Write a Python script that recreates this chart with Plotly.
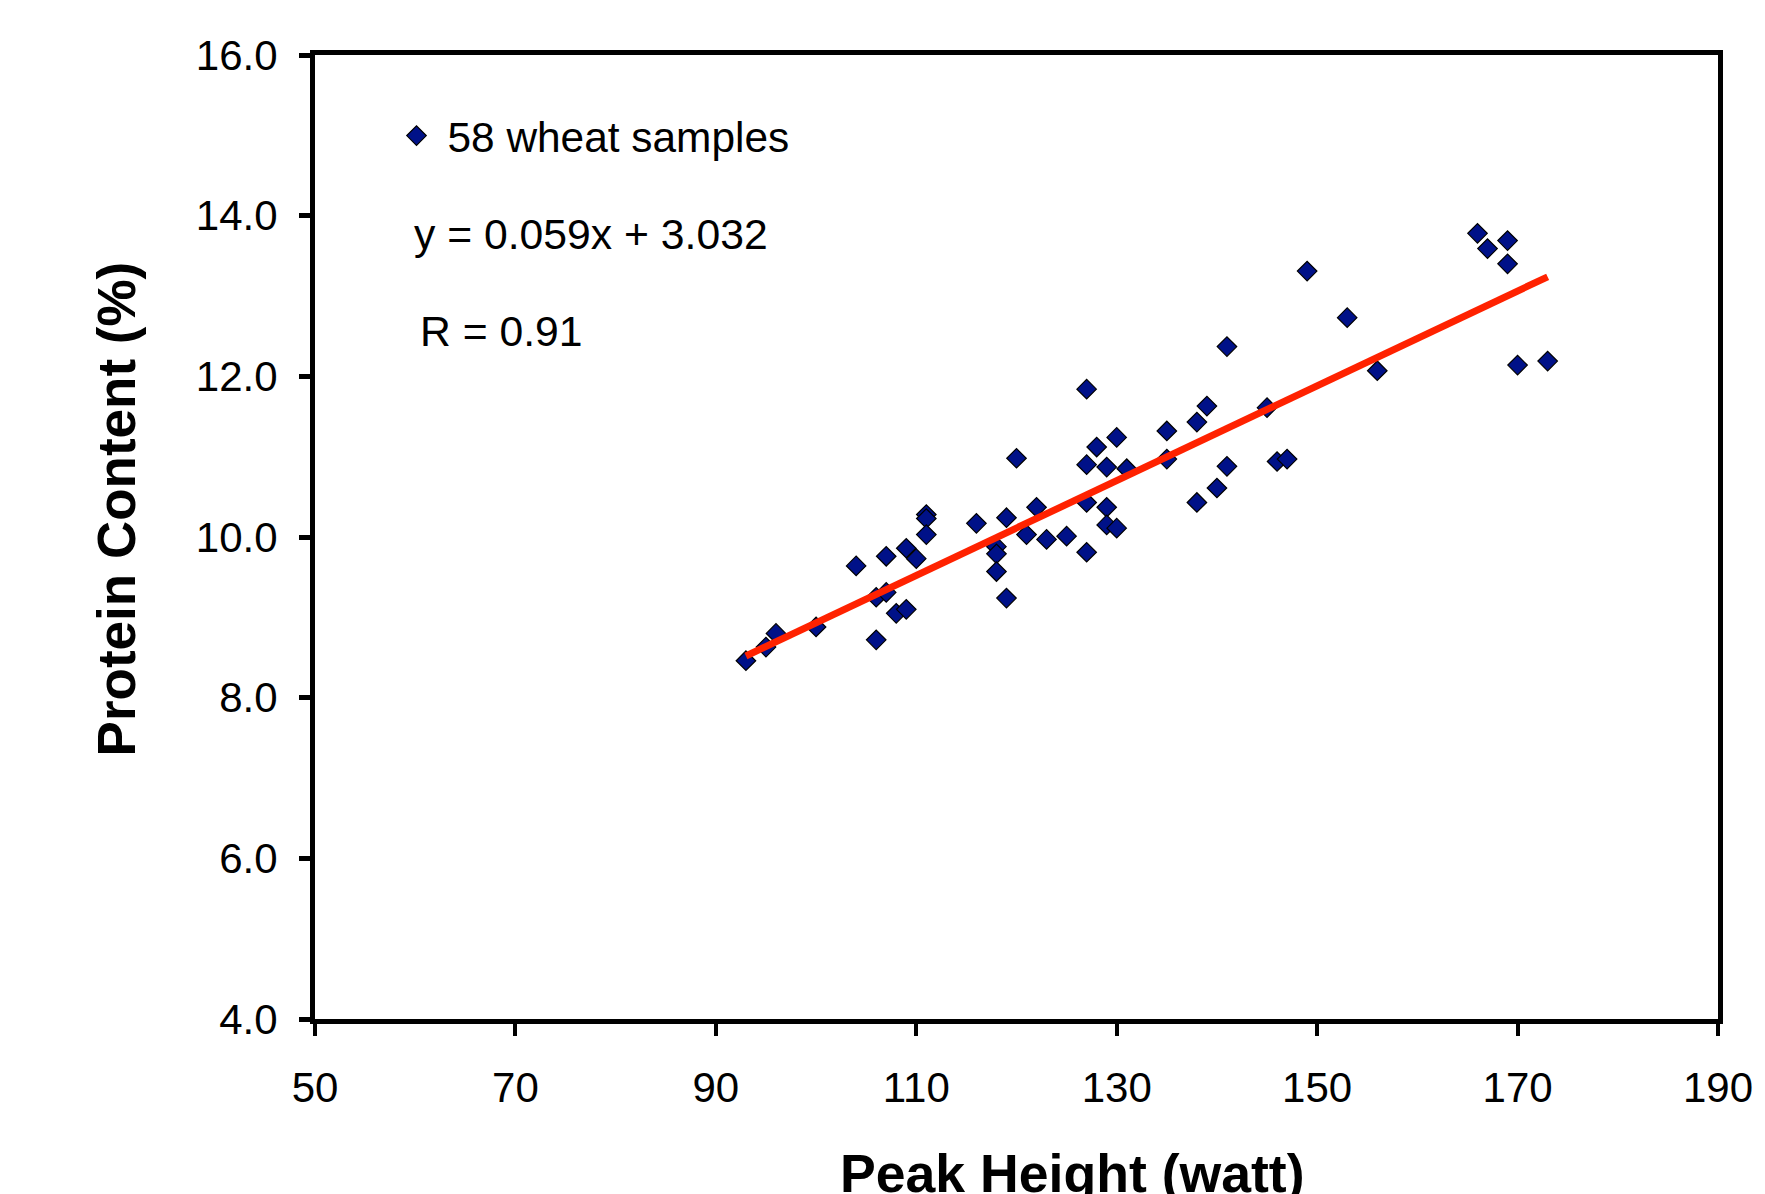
import plotly.graph_objects as go

# ---- data ----
peak_height = [93, 95, 96, 100, 104, 106, 106, 107, 107, 108,
               109, 109, 110, 111, 111, 111, 116, 118, 118, 118,
               119, 119, 120, 121, 122, 123, 125, 127, 127, 127,
               127, 128, 129, 129, 129, 130, 130, 131, 135, 135,
               138, 138, 139, 140, 141, 141, 145, 146, 147, 149,
               153, 156, 166, 167, 169, 169, 170, 173]
protein = [8.46, 8.63, 8.80, 8.88, 9.64, 8.72, 9.25, 9.76, 9.31, 9.05,
           9.10, 9.86, 9.73, 10.28, 10.23, 10.03, 10.17, 9.88, 9.79, 9.57,
           9.24, 10.24, 10.98, 10.03, 10.37, 9.97, 10.01, 11.84, 10.90, 10.43,
           9.81, 11.12, 10.87, 10.37, 10.15, 10.11, 11.24, 10.85, 11.32, 10.97,
           11.43, 10.43, 11.63, 10.61, 12.37, 10.88, 11.61, 10.94, 10.97, 13.31,
           12.73, 12.07, 13.78, 13.59, 13.69, 13.40, 12.14, 12.19]

slope = 0.059
intercept = 3.032
r_value = 0.91
series_name = "58 wheat samples"

x_ticks = [50, 70, 90, 110, 130, 150, 170, 190]
y_ticks = [4.0, 6.0, 8.0, 10.0, 12.0, 14.0, 16.0]

x_title = "Peak Height (watt)"
y_title = "Protein Content (%)"

# ---- figure ----
FONT = "Liberation Sans, Arial, sans-serif"
W, H = 1765, 1194
ML, MR, MT, MB = 315, 37, 55, 175
PW, PH = W - ML - MR, H - MT - MB


def px(xp):
    return (xp - ML) / PW


def py(yp):
    return (H - MB - yp) / PH


fit_x = [min(peak_height), max(peak_height)]
fit_y = [slope * v + intercept for v in fit_x]

fig = go.Figure()
fig.add_trace(go.Scatter(
    x=peak_height, y=protein, mode="markers", name=series_name,
    marker=dict(symbol="diamond", size=15, color="#001188",
                line=dict(color="#000000", width=1.2)),
    showlegend=True,
))
fig.add_trace(go.Scatter(
    x=fit_x, y=fit_y, mode="lines",
    line=dict(color="#FF2200", width=7),
    showlegend=False, hoverinfo="skip",
))

fig.update_layout(
    width=W, height=H,
    margin=dict(l=ML, r=MR, t=MT, b=MB),
    paper_bgcolor="white", plot_bgcolor="white",
    font=dict(family=FONT, color="black", size=42),
    legend=dict(x=px(386), y=py(136), xanchor="left", yanchor="middle",
                bgcolor="rgba(0,0,0,0)", font=dict(family=FONT, size=42.4, color="black"),
                itemwidth=52, borderwidth=0),
    annotations=[
        dict(text=f"y = {slope:.3f}x + {intercept:.3f}", xref="paper", yref="paper",
             x=px(413), y=py(234), xanchor="left", yanchor="middle",
             showarrow=False, font=dict(family=FONT, size=42.7, color="black")),
        dict(text=f"R = {r_value:.2f}", xref="paper", yref="paper",
             x=px(419), y=py(331), xanchor="left", yanchor="middle",
             showarrow=False, font=dict(family=FONT, size=42.7, color="black")),
        dict(text=f"<b>{x_title}</b>", xref="paper", yref="paper",
             x=px(1078), y=py(1173), xanchor="center", yanchor="middle",
             showarrow=False, font=dict(family=FONT, size=53.6, color="black")),
        dict(text=f"<b>{y_title}</b>", xref="paper", yref="paper",
             x=px(115), y=py(509), xanchor="center", yanchor="middle",
             textangle=-90, showarrow=False, font=dict(family=FONT, size=53, color="black")),
    ],
)

fig.update_xaxes(
    range=[50, 190], tickvals=x_ticks, ticktext=[str(v) for v in x_ticks],
    showgrid=False, zeroline=False,
    showline=True, linecolor="black", linewidth=5, mirror=True,
    ticks="outside", ticklen=12, tickwidth=4, tickcolor="black",
    tickfont=dict(family=FONT, size=42, color="black"),
    ticklabelstandoff=16, ticklabeloverflow="allow",
)
fig.update_yaxes(
    range=[4, 16], tickvals=y_ticks, ticktext=[f"{v:.1f}" for v in y_ticks],
    showgrid=False, zeroline=False,
    showline=True, linecolor="black", linewidth=5, mirror=True,
    ticks="outside", ticklen=11, tickwidth=5, tickcolor="black",
    tickfont=dict(family=FONT, size=42, color="black"),
    ticklabelstandoff=13, ticklabeloverflow="allow",
)

fig.write_html("out.html")
